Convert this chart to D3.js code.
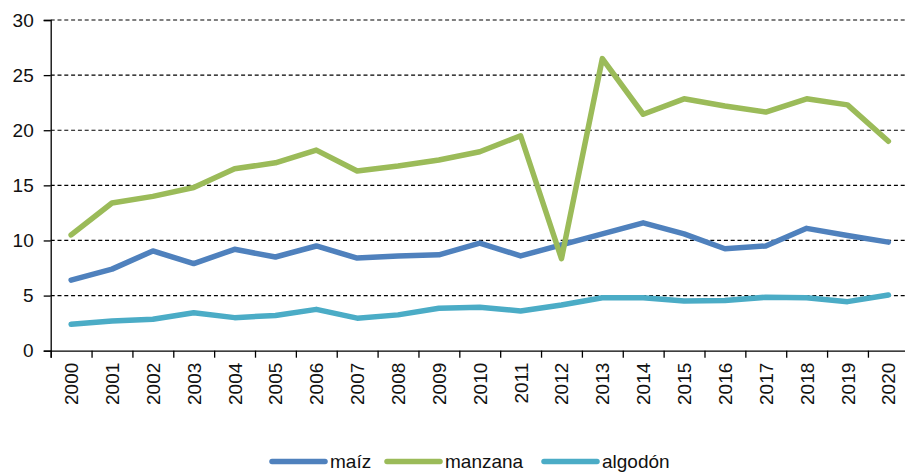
<!DOCTYPE html>
<html>
<head>
<meta charset="utf-8">
<script src="https://cdn.jsdelivr.net/npm/d3@7"></script>
<style>
  body { margin: 0; background: #fff; }
  svg { display: block; font-family: "Liberation Sans", Arial, sans-serif; }
</style>
</head>
<body>
<div id="chart"></div>
<script>
const years = ["2000","2001","2002","2003","2004","2005","2006","2007","2008","2009","2010",
               "2011","2012","2013","2014","2015","2016","2017","2018","2019","2020"];
const maiz = [6.4, 7.4, 9.05, 7.9, 9.2, 8.5, 9.5, 8.4, 8.6, 8.7, 9.75,
              8.6, 9.6, 10.6, 11.6, 10.6, 9.25, 9.5, 11.1, 10.45, 9.85];
const manzana = [10.5, 13.4, 14.0, 14.8, 16.5, 17.05, 18.2, 16.3, 16.75, 17.3, 18.05,
                 19.5, 8.35, 26.5, 21.45, 22.85, 22.2, 21.65, 22.85, 22.3, 19.0];
const algodon = [2.4, 2.7, 2.85, 3.45, 3.0, 3.2, 3.75, 2.95, 3.25, 3.85, 3.95,
                 3.6, 4.15, 4.8, 4.8, 4.5, 4.55, 4.85, 4.8, 4.45, 5.05];
const yTicks = [0, 5, 10, 15, 20, 25, 30];
const seriesNames = ["maíz", "manzana", "algodón"];
const seriesColors = ["#4F81BD", "#9BBB59", "#4BACC6"];

(function() {
    const width = 905, height = 473;
    const left = 50.7, right = 908.8, top = 20, bottom = 350.7;

    const svg = d3.select("#chart").append("svg")
      .attr("width", width)
      .attr("height", height);

    const x = d3.scaleBand().domain(years).range([left, right]).padding(0);
    const y = d3.scaleLinear().domain([0, 30]).range([bottom, top]);
    const xEdge = d3.scaleLinear().domain([0, years.length]).range([left, right]);

    // dashed gridlines
    svg.append("g")
      .selectAll("line")
      .data(yTicks.filter(d => d > 0))
      .enter().append("line")
      .attr("x1", left).attr("x2", width)
      .attr("y1", d => y(d)).attr("y2", d => y(d))
      .attr("stroke", "#000")
      .attr("stroke-width", 1.2)
      .attr("stroke-dasharray", "4,2.8");

    // y axis
    const yAxis = svg.append("g")
      .attr("transform", `translate(${left},0)`)
      .call(d3.axisLeft(y).tickValues(yTicks).tickSize(7).tickPadding(10));
    yAxis.select(".domain").attr("stroke", "#000").attr("stroke-width", 1.3);
    yAxis.selectAll(".tick line").attr("stroke", "#000").attr("stroke-width", 1.3);
    yAxis.selectAll("text").attr("font-size", 19).attr("fill", "#111")
      .attr("font-family", "Liberation Sans, Arial, sans-serif");

    // x axis: boundary ticks
    const xTickAxis = svg.append("g")
      .attr("transform", `translate(0,${bottom})`)
      .call(d3.axisBottom(xEdge).tickValues(d3.range(0, years.length + 1)).tickSize(7).tickFormat(""));
    xTickAxis.select(".domain").attr("stroke", "#000").attr("stroke-width", 1.3);
    xTickAxis.selectAll(".tick line").attr("stroke", "#000").attr("stroke-width", 1.3);

    // x labels rotated
    svg.append("g")
      .selectAll("text")
      .data(years)
      .enter().append("text")
      .attr("transform", d => `translate(${x(d) + x.bandwidth() / 2 + 7},${bottom + 12}) rotate(-90)`)
      .attr("text-anchor", "end")
      .attr("font-size", 19)
      .attr("fill", "#111")
      .text(d => d);

    // lines
    const allSeries = [maiz, manzana, algodon];
    const line = d3.line()
      .x((d, i) => x(years[i]) + x.bandwidth() / 2)
      .y(d => y(d));

    svg.append("g")
      .selectAll("path")
      .data(allSeries)
      .enter().append("path")
      .attr("d", d => line(d))
      .attr("fill", "none")
      .attr("stroke", (d, i) => seriesColors[i])
      .attr("stroke-width", 5.5)
      .attr("stroke-linejoin", "round")
      .attr("stroke-linecap", "round");

    // legend
    const legendX = [272, 387, 544];
    const legendY = 461.5;
    const legend = svg.append("g")
      .selectAll("g")
      .data(seriesNames)
      .enter().append("g")
      .attr("transform", (d, i) => `translate(${legendX[i]},${legendY})`);
    legend.append("line")
      .attr("x1", 0).attr("x2", 53)
      .attr("stroke", (d, i) => seriesColors[i])
      .attr("stroke-width", 5.5)
      .attr("stroke-linecap", "round");
    legend.append("text")
      .attr("x", 58)
      .attr("dy", "0.35em")
      .attr("font-size", 19)
      .attr("fill", "#111")
      .text(d => d);
})();
</script>
</body>
</html>
